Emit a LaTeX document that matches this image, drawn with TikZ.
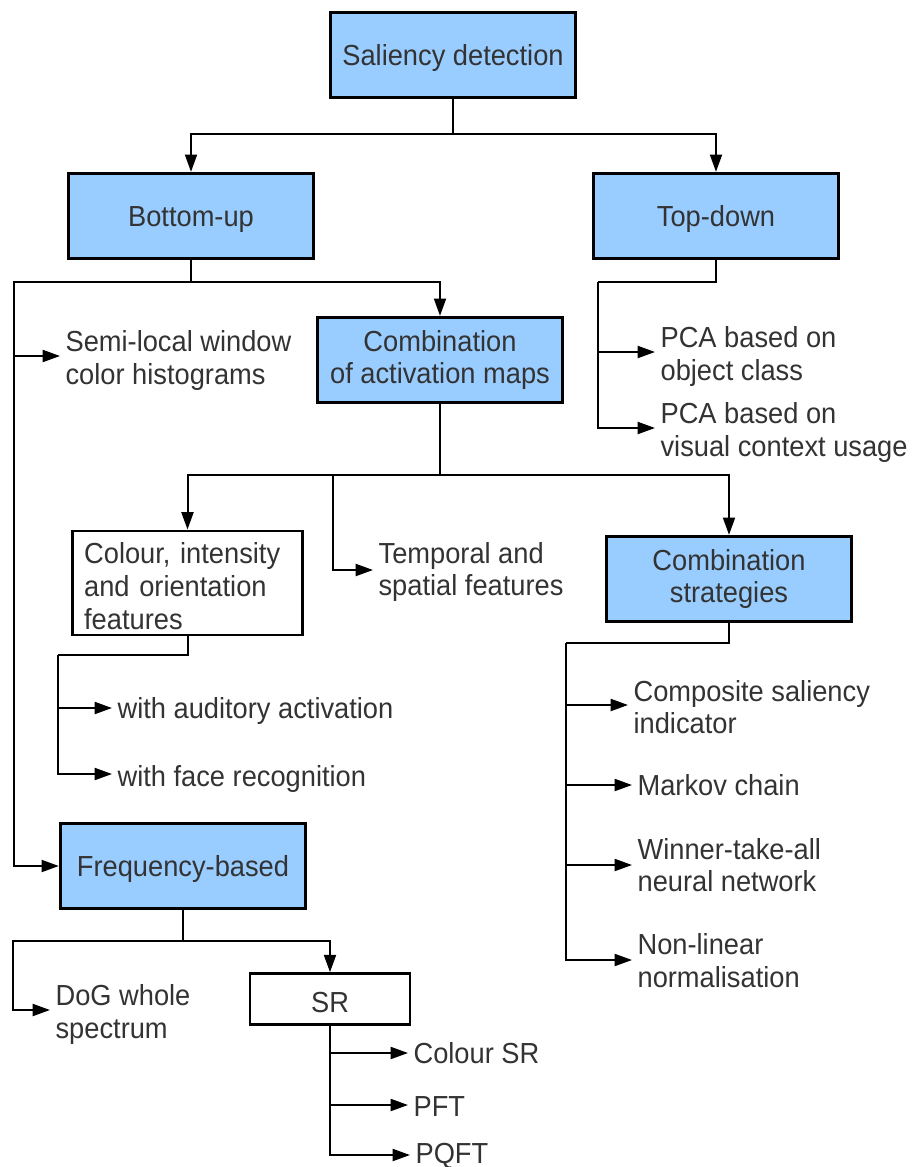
\documentclass[tikz,border=0pt]{standalone}
\usepackage{fontspec}
\setmainfont{Liberation Sans}[FakeStretch=0.94]
\usetikzlibrary{positioning,arrows.meta,calc}
\definecolor{boxblue}{RGB}{153,204,255}
\definecolor{txtgray}{RGB}{51,51,51}

\begin{document}
\begin{tikzpicture}[
    x=0.75pt, y=-0.75pt,
    font=\fontsize{21.75}{24.5}\selectfont,
    every node/.style={text=txtgray},
    block/.style={
        draw=black,
        line width=2.2pt,
        minimum width=184pt,
        minimum height=64pt,
        align=center,
        execute at begin node={\rule{0pt}{20.5pt}}
    },
    main/.style={block, fill=boxblue},
    plain/.style={block, fill=white},
    tall/.style={execute at begin node={\rule{0pt}{25pt}}},
    leaf/.style={align=left, anchor=west, inner xsep=4pt, inner ysep=0pt, yshift=#1},
    leaf/.default=-3.5pt,
    line/.style={line width=1.5pt},
    arrow/.style={line, -{Triangle[length=13pt, width=9pt]}}
]
\useasboundingbox (0,0) rectangle (912,1167);

% ============================================================
% TOP LEVEL
% ============================================================
\node[main] (sal) at (453,55) {Saliency detection};
\node[main] (bu) at (191,216) {Bottom-up};
\node[main] (td) at (716,216) {Top-down};

\coordinate (j1) at (453,134);
\draw[line] (sal.south) -- (j1);
\draw[arrow] (j1) -| (bu.north);
\draw[arrow] (j1) -| (td.north);

% ============================================================
% TOP-DOWN
% ============================================================
\coordinate (pca1-in) at (655,352);
\coordinate (pca2-in) at (655,428);
\node[leaf] (pca1) at (pca1-in) {PCA based on\\object class};
\node[leaf] (pca2) at (pca2-in) {PCA based on\\visual context usage};

\coordinate (tl) at (598,282);
\draw[line] (td.south) |- (tl);
\draw[arrow] (tl) |- (pca2-in);
\draw[arrow] (tl |- pca1-in) -- (pca1-in);

% ============================================================
% BOTTOM-UP
% ============================================================
\node[main, tall] (comb) at (440,360) {Combination\\of activation maps};
\coordinate (semi-in) at (60,356);
\node[leaf] (semi) at (semi-in) {Semi-local window\\color histograms};
\node[main] (freq) at (183,866) {Frequency-based};

\coordinate (j2) at (191,282);
\coordinate (bl) at (14,282);
\draw[line] (bu.south) -- (j2);
\draw[arrow] (j2) -| (comb.north);
\draw[arrow] (j2) -- (bl) |- (freq.west);
\draw[arrow] (bl |- semi-in) -- (semi-in);

% ============================================================
% COMBINATION OF ACTIVATION MAPS
% ============================================================
\node[plain, minimum width=173pt, minimum height=78pt, text width=155pt,
      inner xsep=9pt, align=left] (cif) at (187.5,583)
      {Colour, intensity\\and orientation\\features};
\coordinate (temp-in) at (373,570);
\node[leaf=-1.5pt] (temp) at (temp-in) {Temporal and\\spatial features};
\node[main, tall] (cs) at (729,579) {Combination\\strategies};

\coordinate (j4) at (440,475);
\coordinate (jt) at (333,475);
\draw[line] (comb.south) -- (j4);
\draw[arrow] (j4) -| (cif.north);
\draw[arrow] (j4) -| (cs.north);
\draw[arrow] (jt) |- (temp-in);

% colour, intensity, orientation
\coordinate (aud-in) at (112,708);
\coordinate (face-in) at (112,774);
\node[leaf=-2pt] (aud) at (aud-in) {with auditory activation};
\node[leaf] (face) at (face-in) {with face recognition};

\coordinate (cl) at (58,655);
\draw[line] (cif.south) |- (cl);
\draw[arrow] (cl) |- (face-in);
\draw[arrow] (cl |- aud-in) -- (aud-in);

% combination strategies
\coordinate (csi-in) at (628,705);
\coordinate (mark-in) at (632,785);
\coordinate (wta-in) at (632,865);
\coordinate (nonlin-in) at (632,960);
\node[leaf=-1.5pt] (csi) at (csi-in) {Composite saliency\\indicator};
\node[leaf=0pt] (mark) at (mark-in) {Markov chain};
\node[leaf=0pt] (wta) at (wta-in) {Winner-take-all\\neural network};
\node[leaf=-0.5pt] (nonlin) at (nonlin-in) {Non-linear\\normalisation};

\coordinate (sl) at (566,643);
\draw[line] (cs.south) |- (sl);
\draw[arrow] (sl) |- (nonlin-in);
\foreach \leaf in {csi, mark, wta}
    \draw[arrow] (sl |- \leaf-in) -- (\leaf-in);

% ============================================================
% FREQUENCY-BASED
% ============================================================
\coordinate (dog-in) at (50,1010);
\node[leaf] (dog) at (dog-in) {DoG whole\\spectrum};
\node[plain, minimum width=120pt, minimum height=38pt] (sr) at (330,999) {SR};

\coordinate (fj) at (183,941);
\coordinate (fl) at (13,941);
\draw[line] (freq.south) -- (fj);
\draw[arrow] (fj) -- (fl) |- (dog-in);
\draw[arrow] (fj) -| (sr.north);

% spectral residual
\coordinate (csr-in) at (408,1053);
\coordinate (pft-in) at (408,1105);
\coordinate (pqft-in) at (410,1155);
\node[leaf=0pt] (csr) at (csr-in) {Colour SR};
\node[leaf=-1.5pt] (pft) at (pft-in) {PFT};
\node[leaf=-0.5pt] (pqft) at (pqft-in) {PQFT};

\draw[arrow] (sr.south) |- (pqft-in);
\foreach \leaf in {csr, pft}
    \draw[arrow] (sr.south |- \leaf-in) -- (\leaf-in);

\end{tikzpicture}
\end{document}
